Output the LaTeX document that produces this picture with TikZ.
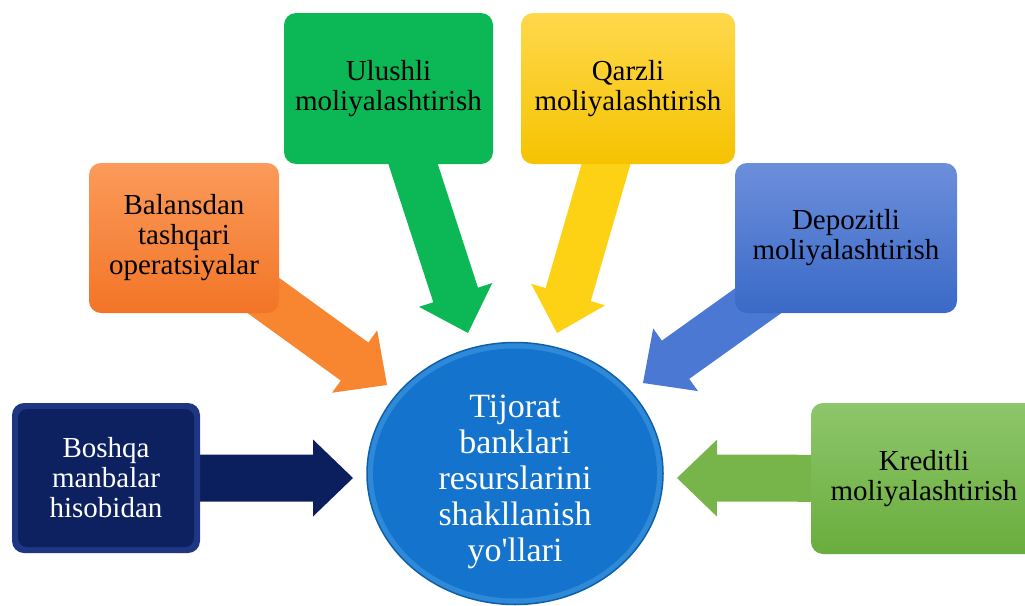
\documentclass[tikz,border=0pt]{standalone}
\usepackage{fontspec}
\setmainfont{Liberation Serif}[Ligatures=TeXOff]
\usetikzlibrary{calc,shapes.geometric,backgrounds}
\definecolor{navyArr}{HTML}{0B1F5E}
\definecolor{navyOut}{HTML}{1F3782}
\definecolor{navyIn}{HTML}{0D2160}
\definecolor{orTop}{HTML}{FB9A5A}
\definecolor{orBot}{HTML}{F27527}
\definecolor{orArr}{HTML}{F8852F}
\definecolor{grn}{HTML}{0BB855}
\definecolor{yeTop}{HTML}{FFD84C}
\definecolor{yeBot}{HTML}{F5C300}
\definecolor{yeArr}{HTML}{FDD215}
\definecolor{blTop}{HTML}{6C8FDB}
\definecolor{blBot}{HTML}{3A69C7}
\definecolor{blArr}{HTML}{4A78D2}
\definecolor{lgTop}{HTML}{8DC66B}
\definecolor{lgBot}{HTML}{6AAD3D}
\definecolor{lgArr}{HTML}{77B54A}
\definecolor{cirOut}{HTML}{2E8AD9}
\definecolor{cirIn}{HTML}{1473CC}
\definecolor{cirEdge}{HTML}{0F5FA8}
\newcommand\blockarr[3]{%
  \coordinate (hb) at ($(#2)!40pt!(#1)$);
  \fill[#3] ($(#1)!23.5pt!90:(#2)$) -- ($(hb)!23.5pt!-90:(#1)$) -- ($(hb)!38.5pt!-90:(#1)$) -- (#2)
    -- ($(hb)!38.5pt!90:(#1)$) -- ($(hb)!23.5pt!90:(#1)$) -- ($(#1)!23.5pt!-90:(#2)$) -- cycle;}
\tikzset{
  box/.style={rectangle, rounded corners=12pt, align=center, inner sep=0pt,
    font=\fontsize{29}{30}\selectfont, text=black},
}
\begin{document}
\begin{tikzpicture}[x=1pt,y=-1pt]
\useasboundingbox (0,0) rectangle (1025,605);
% boxes
\node[box, minimum width=188pt, minimum height=150pt, fill=navyOut, text=white,
  path picture={\fill[navyIn, rounded corners=9pt]
    ([shift={(6pt,-6pt)}]path picture bounding box.north west) rectangle
    ([shift={(-6pt,6pt)}]path picture bounding box.south east);}]
  (b1) at (106,478) {Boshqa\\manbalar\\hisobidan};
\node[box, minimum width=190pt, minimum height=150pt, top color=orTop, bottom color=orBot]
  (b2) at (184,238) {Balansdan\\tashqari\\operatsiyalar};
\node[box, minimum width=209pt, minimum height=151pt, fill=grn]
  (b3) at (388.5,88.5) {Ulushli\\moliyalashtirish};
\node[box, minimum width=214pt, minimum height=151pt, top color=yeTop, bottom color=yeBot]
  (b4) at (628,88.5) {Qarzli\\moliyalashtirish};
\node[box, minimum width=222pt, minimum height=150pt, top color=blTop, bottom color=blBot]
  (b5) at (846,238) {Depozitli\\moliyalashtirish};
\node[box, minimum width=226pt, minimum height=151pt, top color=lgTop, bottom color=lgBot]
  (b6) at (924,478.5) {Kreditli\\moliyalashtirish};
% tips
\coordinate (t1) at (353,478);
\coordinate (t2) at (387,385);
\coordinate (t3) at (468,333);
\coordinate (t4) at (557,333);
\coordinate (t5) at (643,383);
\coordinate (t6) at (677,478);
\begin{pgfonlayer}{background}
\blockarr{b1.center}{t1}{navyArr}
\blockarr{b2.center}{t2}{orArr}
\blockarr{b3.center}{t3}{grn}
\blockarr{b4.center}{t4}{yeArr}
\blockarr{b5.center}{t5}{blArr}
\blockarr{b6.center}{t6}{lgArr}
\end{pgfonlayer}
% centre
\node[ellipse, minimum width=296pt, minimum height=262pt, inner sep=0pt,
  fill=cirOut, draw=cirEdge, line width=1.5pt,
  path picture={\fill[cirIn] (path picture bounding box.center) ellipse [x radius=142pt, y radius=125pt];}]
  (c) at (515,473.5) {};
\node[align=center, text=white, font=\fontsize{34}{36}\selectfont, inner sep=0pt]
  (ct) at ([yshift=-8pt]c.center) {Tijorat\\banklari\\resurslarini\\shakllanish\\yo'llari};
\end{tikzpicture}
\end{document}
